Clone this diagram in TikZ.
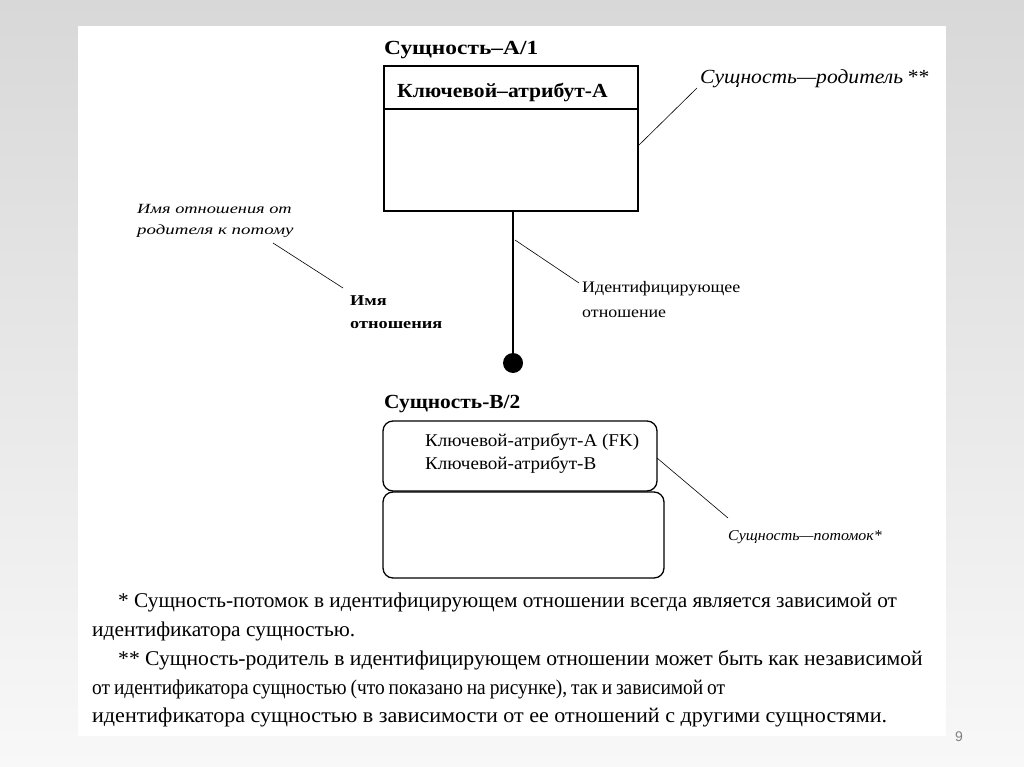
\documentclass[tikz,border=0pt]{standalone}
\usepackage{graphicx}
\usepackage{fontspec}
\setmainfont{Liberation Serif}
\newfontfamily\numfont{Liberation Sans}
\newcommand{\sxt}[2]{\scalebox{#1}[1]{#2}}
\begin{document}
\begin{tikzpicture}[x=1pt,y=-1pt,
  lbl/.style={inner sep=0pt,anchor=base west},
  thinline/.style={draw=black,line width=0.6pt},
  ebox/.style={draw=black,line width=1.3pt},
  rbox/.style={draw=black,line width=1.3pt,rounded corners=10pt}]
\useasboundingbox (0,0) rectangle (1024,767);
\shade[top color={rgb,255:red,216;green,216;blue,216},bottom color={rgb,255:red,248;green,248;blue,248}] (0,0) rectangle (1024,767);
\fill[white] (78,26) rectangle (946,736);
% page number
\node[lbl,text=gray] (pg) at (955,741) {\numfont\fontsize{14}{16}\selectfont 9};
% Entity A
\node[lbl] (tA) at (384,55) {\fontsize{20}{24}\selectfont\bfseries\sxt{1.17}{Сущность–А/1}};
\draw[ebox] (384,66) rectangle (638,211);
\coordinate (Atl) at (384,66);
\coordinate (Abr) at (638,211);
\draw[ebox] (384,109) -- (638,109);
\node[lbl] (kA) at (397,98) {\fontsize{20}{24}\selectfont\bfseries\sxt{1.08}{Ключевой–атрибут-А}};
% parent label
\node[lbl] (par) at (700,84) {\fontsize{20}{24}\selectfont\itshape\sxt{1.08}{Сущность—родитель\,**}};
\coordinate (Ar) at (638,146);
\coordinate (parE) at (697,88);
\draw[thinline] (Ar) -- (parE);
% relationship line
\coordinate (Ab) at (513,211);
\node[circle,fill=black,minimum size=20pt,inner sep=0pt] (dot) at (513,363) {};
\draw[line width=2.6pt] (Ab) -- (dot.center);
% identifying label
\node[lbl] (id1) at (582,292) {\fontsize{16}{18}\selectfont\sxt{1.12}{Идентифицирующее}};
\node[lbl] (id2) at (582,317) {\fontsize{16}{18}\selectfont\sxt{1.12}{отношение}};
\coordinate (idS) at (515,240);
\coordinate (idE) at (579,283);
\draw[thinline] (idS) -- (idE);
% name labels
\node[lbl] (nm1) at (137,214) {\fontsize{14}{16}\selectfont\itshape\sxt{1.31}{Имя отношения от}};
\node[lbl] (nm2) at (137,235) {\fontsize{14}{16}\selectfont\itshape\sxt{1.35}{родителя к потому}};
\coordinate (nmS) at (273,243);
\coordinate (nmE) at (343,288);
\draw[thinline] (nmS) -- (nmE);
\node[lbl] (rn1) at (350,305) {\fontsize{15}{18}\selectfont\bfseries\sxt{1.22}{Имя}};
\node[lbl] (rn2) at (350,328) {\fontsize{15}{18}\selectfont\bfseries\sxt{1.22}{отношения}};
% Entity B
\node[lbl] (tB) at (384,408) {\fontsize{20}{24}\selectfont\bfseries\sxt{1.07}{Сущность-В/2}};
\draw[rbox] (383,421) rectangle (657,491);
\draw[rbox] (383,492) rectangle (664,578);
\node[lbl] (kB1) at (425,446) {\fontsize{18}{20}\selectfont\sxt{1.06}{Ключевой-атрибут-А (FK)}};
\node[lbl] (kB2) at (425,469) {\fontsize{18}{20}\selectfont\sxt{1.06}{Ключевой-атрибут-В}};
\coordinate (Br) at (657,458);
\coordinate (chE) at (728,518);
\draw[thinline] (Br) -- (chE);
\node[lbl] (ch) at (728,540) {\fontsize{15}{18}\selectfont\itshape\sxt{1.06}{Сущность—потомок*}};
% footnotes
\node[lbl] (f1) at (118,607) {\fontsize{21}{24}\selectfont\sxt{1.015}{* Сущность-потомок в идентифицирующем отношении всегда является зависимой от}};
\node[lbl] (f2) at (92,636) {\fontsize{21}{24}\selectfont\sxt{1.02}{идентификатора сущностью.}};
\node[lbl] (f3) at (118,665) {\fontsize{21}{24}\selectfont\sxt{1.03}{** Сущность-родитель в идентифицирующем отношении может быть как независимой}};
\node[lbl] (f4) at (92,694) {\fontsize{21}{24}\selectfont\spaceskip=4.2pt\sxt{0.925}{от идентификатора сущностью (что показано на рисунке), так и зависимой от}};
\node[lbl] (f5) at (92,722) {\fontsize{21}{24}\selectfont\sxt{1.05}{идентификатора сущностью в зависимости от ее отношений с другими сущностями.}};
\end{tikzpicture}
\end{document}
